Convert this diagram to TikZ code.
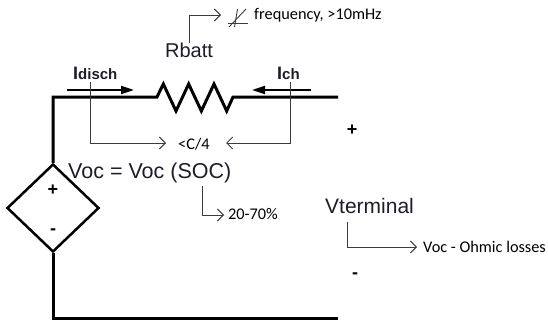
\documentclass[tikz,border=0pt]{standalone}
\usepackage{fontspec}
\setmainfont{Liberation Sans}
\newfontfamily\notefont{Carlito}
\usetikzlibrary{arrows.meta}
\usetikzlibrary{shapes.geometric}
\definecolor{textcol}{RGB}{28,28,42}
\definecolor{notecol}{RGB}{60,60,60}
\tikzstyle{wire} = [line width=3pt, line join=miter]
\tikzstyle{current} = [line width=2pt, -{Triangle[length=13pt,width=8pt]}]
\tikzstyle{callout} = [line width=0.9pt, draw=notecol,
    -{Straight Barb[length=6pt,width=12pt]}]
\tikzstyle{lbl} = [inner sep=0pt, anchor=base west, text=textcol]
\tikzstyle{note} = [inner sep=0pt, anchor=base west,
    font=\notefont\fontsize{16.3}{16}\selectfont]
\tikzstyle{sign} = [inner sep=0pt, font=\bfseries\fontsize{18}{18}\selectfont]

\begin{document}
\begin{tikzpicture}[x=1pt,y=-1pt]
\useasboundingbox (0,0) rectangle (548,321);
    %nodes
    \node[diamond, draw, line width=2.5pt, minimum width=92pt,
        minimum height=88pt, inner sep=0pt] (src) at (53,208) {};
    \node[sign] (srcp) at (53,190) {+};
    \node[sign] (srcm) at (53,232) {-};
    \node[sign] (vp) at (352,130) {+};
    \node[sign] (vm) at (355,276) {-};
    \coordinate (rL) at (157,97);
    \coordinate (topR) at (338,97);
    \coordinate (botR) at (338,318);
    %labels
    \node[lbl, anchor=base, font=\fontsize{20}{20}\selectfont] (rbatt) at (189,58) {Rbatt};
    \node[lbl, font=\bfseries] (idisch) at (73,79)
        {{\fontsize{18}{18}\selectfont I}{\fontsize{15}{15}\selectfont disch}};
    \node[lbl, font=\bfseries] (ich) at (277,79)
        {{\fontsize{18}{18}\selectfont I}{\fontsize{15}{15}\selectfont ch}};
    \node[lbl, font=\fontsize{21.5}{21}\selectfont] (voc) at (68,178) {Voc = Voc (SOC)};
    \node[lbl, font=\fontsize{21}{21}\selectfont] (vterm) at (325,213) {Vterminal};
    \node[note] (freq) at (254,20) {frequency, >10mHz};
    \node[note] (c4) at (178,149) {<C/4};
    \node[note] (soc) at (228,219) {20-70\%};
    \node[note] (ohm) at (423,252) {Voc - Ohmic losses};
    %circuit
    \draw[wire] (src.north) |- (rL) -- ++(6.33,-13) -- ++(12.67,27)
        -- ++(12.67,-27) -- ++(12.67,27) -- ++(12.67,-27) -- ++(12.67,27)
        -- ++(6.33,-14) coordinate (rR) -- (topR);
    \draw[wire] (src.south) |- (botR);
    %currents
    \draw[current] (67,90) coordinate (dischS) -- (134,90) coordinate (dischE);
    \draw[current] (311,90) coordinate (chS) -- (252,90) coordinate (chE);
    %callouts
    \coordinate (freqin) at (221,15);
    \coordinate (dischtap) at (90,82);
    \coordinate (chtap) at (290,82);
    \coordinate (c4l) at (166,143);
    \coordinate (c4r) at (226,143);
    \coordinate (soctap) at (202,186);
    \coordinate (socin) at (224,215);
    \coordinate (vtap) at (347,222);
    \coordinate (ohmin) at (417,247);
    \draw[callout] (rbatt.north) |- (freqin);
    \draw[callout] (dischtap) |- (c4l);
    \draw[callout] (chtap) |- (c4r);
    \draw[callout] (soctap) |- (socin);
    \draw[callout] (vtap) |- (ohmin);
    %frequency symbol
    \draw[notecol, line width=0.9pt] (228,23) -- (248,23);
    \draw[notecol, line width=0.9pt] (234.5,27) -- (237.5,9);
    \draw[notecol, line width=0.9pt] (229,27) -- (246,9);
\end{tikzpicture}
\end{document}
